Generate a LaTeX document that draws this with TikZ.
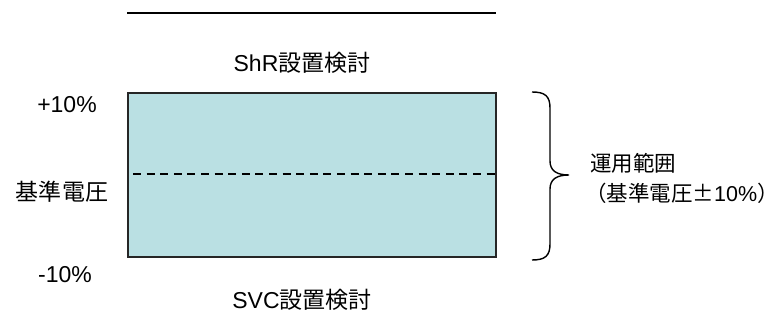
\documentclass[tikz,border=0pt]{standalone}
\usepackage{fontspec}
\setmainfont{Liberation Sans}
\newfontfamily\jp{Noto Sans CJK JP}
\definecolor{boxfill}{HTML}{BAE0E3}
\begin{document}
\begin{tikzpicture}[x=1pt,y=1pt,
  lbl/.style={inner sep=0pt, font=\fontsize{23}{27}\selectfont},
  rlbl/.style={inner sep=0pt, font=\fontsize{21.5}{30}\selectfont, align=left},
  bandbox/.style={draw=black!85, line width=1.6pt, fill=boxfill, inner sep=0pt,
    minimum width=368pt, minimum height=164pt}]
\useasboundingbox (0,0) rectangle (781,324);
% top line
\coordinate (tl) at (127,311);
\coordinate (tr) at (496,311);
\draw[line width=1.2pt] (tl) -- (tr);
% box
\node[bandbox] (box) at (312,149) {};
\coordinate (dl) at (133,150);
\coordinate (dr) at (500,150);
\draw[line width=1.5pt, dash pattern=on 8pt off 5.6pt] (dl) -- (dr);
% labels
\node[lbl] (shr) at (302,261) {ShR{\jp 設置検討}};
\node[lbl] (svc) at (302,24) {SVC{\jp 設置検討}};
\node[lbl] (p10) at (67,219) {+10\%};
\node[lbl] (base) at (62,132) {\jp 基準電圧};
\node[lbl] (m10) at (65,49) {-10\%};
% brace
\coordinate (bt) at (532,232);
\coordinate (bb) at (532,64);
\coordinate (btip) at (569,149);
\draw[line width=1.4pt] (bt) .. controls (545,232) and (550,228) .. (550,216)
  -- (550,163) .. controls (550,153) and (557,149) .. (btip)
  .. controls (557,149) and (550,145) .. (550,135)
  -- (550,80) .. controls (550,68) and (545,64) .. (bb);
% right label
\node[rlbl, anchor=west] (range1) at (590,161) {\jp 運用範囲};
\node[rlbl, anchor=west] (range2) at (585,131) {{\jp （基準電圧±}10\%{\jp ）}\kern-0.5em};
\end{tikzpicture}
\end{document}
